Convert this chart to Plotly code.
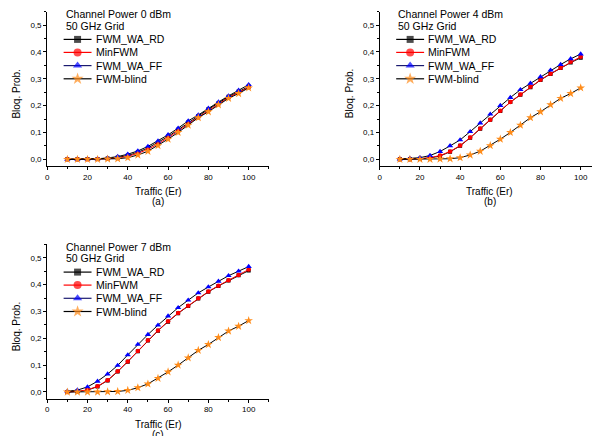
import plotly.graph_objects as go

# Traffic load (Erlang) on the x axis
traffic = [10, 15, 20, 25, 30, 35, 40, 45, 50, 55, 60, 65, 70, 75, 80, 85, 90, 95, 100]

# (a) channel power 0 dBm
rd_a = [0, 0, 0.001, 0.001, 0.003, 0.007, 0.014, 0.026, 0.042, 0.062, 0.085, 0.110, 0.137, 0.161, 0.186, 0.209, 0.233, 0.252, 0.271]
min_a = [0, 0, 0, 0.001, 0.002, 0.005, 0.011, 0.022, 0.037, 0.057, 0.080, 0.105, 0.132, 0.157, 0.182, 0.206, 0.230, 0.249, 0.268]
ff_a = [0, 0, 0.001, 0.002, 0.005, 0.010, 0.019, 0.031, 0.048, 0.068, 0.091, 0.116, 0.143, 0.165, 0.190, 0.213, 0.236, 0.257, 0.278]
blind_a = [0, 0, 0, 0, 0.001, 0.002, 0.006, 0.016, 0.030, 0.051, 0.075, 0.100, 0.127, 0.155, 0.177, 0.203, 0.227, 0.245, 0.266]

# (b) channel power 4 dBm
rd_b = [0, 0, 0.002, 0.005, 0.012, 0.028, 0.050, 0.080, 0.114, 0.147, 0.180, 0.213, 0.240, 0.268, 0.295, 0.318, 0.340, 0.360, 0.378]
min_b = [0, 0, 0.002, 0.006, 0.014, 0.029, 0.051, 0.081, 0.115, 0.147, 0.181, 0.213, 0.241, 0.270, 0.296, 0.319, 0.341, 0.363, 0.382]
ff_b = [0.001, 0.003, 0.006, 0.014, 0.029, 0.050, 0.072, 0.103, 0.135, 0.168, 0.200, 0.230, 0.259, 0.283, 0.307, 0.332, 0.353, 0.374, 0.392]
blind_b = [0, 0, 0, 0, 0.001, 0.002, 0.006, 0.016, 0.030, 0.051, 0.075, 0.100, 0.127, 0.155, 0.177, 0.203, 0.227, 0.245, 0.266]

# (c) channel power 7 dBm
rd_c = [0, 0.002, 0.007, 0.020, 0.043, 0.076, 0.113, 0.152, 0.192, 0.228, 0.262, 0.293, 0.320, 0.348, 0.373, 0.395, 0.415, 0.435, 0.452]
min_c = [0, 0.002, 0.008, 0.021, 0.044, 0.077, 0.114, 0.153, 0.193, 0.229, 0.263, 0.294, 0.321, 0.349, 0.374, 0.396, 0.416, 0.436, 0.456]
ff_c = [0.003, 0.007, 0.019, 0.040, 0.067, 0.099, 0.138, 0.177, 0.214, 0.249, 0.283, 0.314, 0.342, 0.369, 0.391, 0.412, 0.433, 0.450, 0.467]
blind_c = [0, 0, 0, 0, 0.001, 0.002, 0.006, 0.016, 0.030, 0.051, 0.075, 0.100, 0.127, 0.155, 0.177, 0.203, 0.227, 0.245, 0.266]

series_names = ["FWM_WA_RD", "MinFWM", "FWM_WA_FF", "FWM-blind"]
panel_titles = ["Channel Power 0 dBm", "Channel Power 4 dBm", "Channel Power 7 dBm"]
grid_label = "50 GHz Grid"
panel_letters = ["(a)", "(b)", "(c)"]

# the page body has an 8px margin, so the figure is a bit smaller than the window
OFF = 8
W, H = 600 - OFF, 436 - OFF
FONT = "Liberation Sans, Arial, sans-serif"

# styles per series: (marker symbol, marker colour, line colour, plot size, legend size, legend line colour)
styles = [
    ("square", "black", "black", 4, 7, "black"),
    ("circle", "#ff0000", "#ff0000", 4.5, 8, "#ff0000"),
    ("triangle-up", "#0000ff", "black", 5.5, 8, "#1a1a70"),
    ("star", "#ff8c1a", "black", 6.5, 9, "black"),
]

# panel frames in window pixels: left, right, top, bottom, xmax
panels = [
    (45.3, 267.7, 11.6, 166.0, 110),
    (379.0, 600.0, 11.6, 166.0, 109.6),
    (45.3, 267.7, 244.3, 398.7, 110),
]
data = [
    [rd_a, min_a, ff_a, blind_a],
    [rd_b, min_b, ff_b, blind_b],
    [rd_c, min_c, ff_c, blind_c],
]

fig = go.Figure()
annotations = []

for i, (l, r, t, b, xmax) in enumerate(panels):
    n = "" if i == 0 else str(i + 1)
    fig.update_layout(**{
        "xaxis" + n: dict(
            domain=[(l - OFF) / W, min(1, (r - OFF) / W)], range=[0, xmax], anchor="y" + n,
            showline=True, linecolor="black", linewidth=1, showgrid=False, zeroline=False,
            tickmode="linear", tick0=0, dtick=20, ticks="outside", ticklen=3, tickwidth=1,
            tickcolor="black", tickfont=dict(size=8, color="black", family=FONT),
            minor=dict(dtick=10, tick0=0, ticks="outside", ticklen=2, tickcolor="black", showgrid=False),
            fixedrange=True,
        ),
        "yaxis" + n: dict(
            domain=[1 - (b - OFF) / H, 1 - (t - OFF) / H], range=[-0.025, 0.55], anchor="x" + n,
            showline=True, linecolor="black", linewidth=1, showgrid=False, zeroline=False,
            tickmode="linear", tick0=0, dtick=0.1, tickformat=".1f", ticks="outside",
            ticklen=3, tickwidth=1, tickcolor="black",
            tickfont=dict(size=8, color="black", family=FONT),
            minor=dict(dtick=0.05, tick0=0, ticks="outside", ticklen=2, tickcolor="black", showgrid=False),
            fixedrange=True,
        ),
    })
    for ys, (sym, mcol, lcol, msize, _, _) in zip(data[i], styles):
        fig.add_trace(go.Scatter(
            x=traffic, y=ys, mode="lines+markers", xaxis="x" + n, yaxis="y" + n,
            line=dict(color=lcol, width=1), marker=dict(symbol=sym, color=mcol, size=msize),
            showlegend=False,
        ))

    # header text
    annotations.append(dict(x=l + 16.7, y=t + 2.4, text=panel_titles[i]))
    annotations.append(dict(x=l + 16.7, y=t + 14.0, text=grid_label))
    # hand drawn legend, like the original figure
    rows = [t + 27.8, t + 40.8, t + 54.0, t + 67.2]
    for row, name, (sym, mcol, lcol, _, lsize, legcol) in zip(rows, series_names, styles):
        fig.add_trace(go.Scatter(
            x=[l + 16.5, l + 30.5, l + 44.5], y=[row, row, row], mode="lines+markers",
            xaxis="x4", yaxis="y4", line=dict(color=legcol, width=1.2),
            marker=dict(symbol=sym, color=mcol, size=[0, lsize, 0], line=dict(width=0)),
            showlegend=False, hoverinfo="skip",
        ))
        annotations.append(dict(x=l + 46.5, y=row, text=name))
    # axis titles
    annotations.append(dict(x=l - 30.5, y=(t + b) / 2 + 5, text="Bloq. Prob.", textangle=-90,
                            xanchor="center", size=10))
    annotations.append(dict(x=(l + r) / 2, y=b + 25.7, text="Traffic (Er)", xanchor="center", size=10))
    annotations.append(dict(x=(l + r) / 2, y=b + 35.7, text=panel_letters[i], xanchor="center", size=10))

# overlay axes in window pixels for legend symbols and labels
fig.update_layout(
    xaxis4=dict(domain=[0, 1], range=[OFF, OFF + W], visible=False, anchor="y4", fixedrange=True),
    yaxis4=dict(domain=[0, 1], range=[OFF + H, OFF], visible=False, anchor="x4", fixedrange=True),
)

fig.update_layout(annotations=[
    dict(x=a["x"], y=a["y"], xref="x4", yref="y4", text=a["text"], showarrow=False,
         xanchor=a.get("xanchor", "left"), yanchor="middle", textangle=a.get("textangle", 0),
         font=dict(size=a.get("size", 10.5), color="black", family=FONT))
    for a in annotations
])

fig.update_layout(
    width=W, height=H, margin=dict(l=0, r=0, t=0, b=0),
    paper_bgcolor="white", plot_bgcolor="rgba(0,0,0,0)", separators=",.",
    font=dict(family=FONT, color="black"),
)

fig.write_html("out.html")
